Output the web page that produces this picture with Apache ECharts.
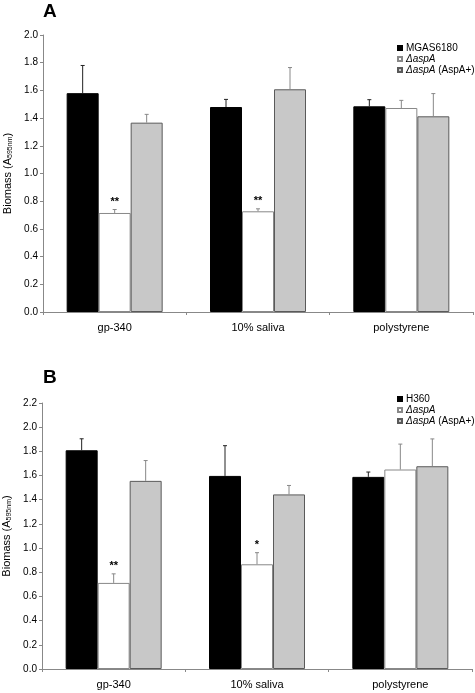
<!DOCTYPE html>
<html><head><meta charset="utf-8">
<script src="https://cdn.jsdelivr.net/npm/echarts@6/dist/echarts.min.js"></script>
<style>html,body{margin:0;padding:0;background:#fff}#c{width:475px;height:693px}</style>
</head><body><div id="c"></div>
<script>
const categories = ['gp-340', '10% saliva', 'polystyrene'];
const seriesNamesA = ['MGAS6180', 'ΔaspA', 'ΔaspA (AspA+)'];
const seriesNamesB = ['H360', 'ΔaspA', 'ΔaspA (AspA+)'];
// Panel A values and SD (upper error)
const wtA = [1.58, 1.48, 1.485];
const mutA = [0.715, 0.727, 1.473];
const compA = [1.367, 1.608, 1.413];
const wtErrA = [0.20, 0.055, 0.048];
const mutErrA = [0.025, 0.018, 0.055];
const compErrA = [0.06, 0.157, 0.164];
const sigA = ['**', '**', ''];
// Panel B
const wtB = [1.809, 1.597, 1.589];
const mutB = [0.712, 0.866, 1.650];
const compB = [1.556, 1.444, 1.677];
const wtErrB = [0.095, 0.25, 0.04];
const mutErrB = [0.075, 0.096, 0.21];
const compErrB = [0.168, 0.074, 0.226];
const sigB = ['**', '*', ''];
const yTicksA = {min: 0, max: 2.0, interval: 0.2};
const yTicksB = {min: 0, max: 2.2, interval: 0.2};

const FONT = 'Liberation Sans, Arial, sans-serif';
const styles = [
  {fill: '#000000', border: '#000000', err: '#222222'},
  {fill: '#ffffff', border: '#888888', err: '#888888'},
  {fill: '#c8c8c8', border: '#5a5a5a', err: '#888888'}
];
const BW = 32;

function barSeries(name, data, idx, axis) {
  return {
    type: 'bar', name: name, data: data, xAxisIndex: axis, yAxisIndex: axis,
    barWidth: BW, barGap: '0%',
    itemStyle: {color: styles[idx].fill, borderColor: styles[idx].border, borderWidth: 1},
    emphasis: {disabled: true}, silent: true, z: 2
  };
}
function errSeries(vals, errs, idx, axis, sig) {
  const data = vals.map((v, i) => [i, v, errs[i]]);
  return {
    type: 'custom', xAxisIndex: axis, yAxisIndex: axis, silent: true, z: 5,
    data: data, encode: {x: 0, y: 1},
    renderItem: function (params, api) {
      const i = api.value(0), v = api.value(1), e = api.value(2);
      const p0 = api.coord([i, v]);
      const p1 = api.coord([i, v + e]);
      const x = p0[0] + (idx - 1) * BW;
      const children = [
        {type: 'line', shape: {x1: x, y1: p0[1], x2: x, y2: p1[1]}, style: {stroke: styles[idx].err, lineWidth: 1}},
        {type: 'line', shape: {x1: x - 2, y1: p1[1], x2: x + 2, y2: p1[1]}, style: {stroke: styles[idx].err, lineWidth: 1}}
      ];
      if (sig && sig[i]) {
        children.push({type: 'text', style: {text: sig[i], x: x, y: p1[1] - 2, textAlign: 'center', textVerticalAlign: 'bottom', font: 'bold 11px ' + FONT, fill: '#000'}});
      }
      return {type: 'group', children: children};
    }
  };
}
function yAxis(t, axis) {
  return {
    type: 'value', gridIndex: axis, min: t.min, max: t.max, interval: t.interval,
    name: '{a|Biomass (A}{s|595nm}{a|)}', nameLocation: 'middle', nameGap: 29,
    nameTextStyle: {rich: {a: {fontFamily: FONT, fontSize: 11, color: '#000'}, s: {fontFamily: FONT, fontSize: 7, color: '#000', padding: [4, 0, 0, 0]}}},
    axisLine: {show: true, lineStyle: {color: '#888', width: 1}},
    axisTick: {show: true, length: 3, lineStyle: {color: '#888'}},
    axisLabel: {fontFamily: FONT, fontSize: 10, color: '#000', margin: 5, formatter: v => v.toFixed(1)},
    splitLine: {show: false}
  };
}
function xAxis(axis) {
  return {
    type: 'category', gridIndex: axis, data: categories,
    axisLine: {lineStyle: {color: '#888', width: 1}},
    axisTick: {show: true, length: 3, lineStyle: {color: '#888'}},
    axisLabel: {fontFamily: FONT, fontSize: 11, color: '#000', margin: 10}
  };
}
const legendRich = {
  i: {fontFamily: FONT, fontSize: 10, fontStyle: 'italic', color: '#000'},
  n: {fontFamily: FONT, fontSize: 10, color: '#000'}
};
function legendFmt(name) {
  if (name.indexOf('ΔaspA') === 0) {
    return '{i|ΔaspA}' + (name.length > 5 ? '{n|' + name.slice(5) + '}' : '');
  }
  return '{n|' + name + '}';
}
function legend(names, top) {
  return {
    orient: 'vertical', left: 392, top: top, itemWidth: 4, itemHeight: 4, itemGap: 1,
    icon: 'rect', data: names, formatter: legendFmt, selectedMode: false,
    textStyle: {rich: legendRich, padding: [0, 0, 0, -1]}
  };
}

const chart = echarts.init(document.getElementById('c'), null, {renderer: 'canvas'});
chart.setOption({
  animation: false,
  backgroundColor: '#fff',
  title: [
    {text: 'A', left: 43, top: 2, padding: 0, textStyle: {fontFamily: FONT, fontWeight: 'bold', fontSize: 19, color: '#000'}},
    {text: 'B', left: 43, top: 368, padding: 0, textStyle: {fontFamily: FONT, fontWeight: 'bold', fontSize: 19, color: '#000'}}
  ],
  legend: [legend(seriesNamesA, 38), legend(seriesNamesB, 389)],
  grid: [
    {left: 43, top: 35, width: 430, height: 277, containLabel: false, outerBoundsMode: 'none'},
    {left: 42, top: 403, width: 430, height: 266, containLabel: false, outerBoundsMode: 'none'}
  ],
  xAxis: [xAxis(0), xAxis(1)],
  yAxis: [yAxis(yTicksA, 0), yAxis(yTicksB, 1)],
  series: [
    barSeries(seriesNamesA[0], wtA, 0, 0),
    barSeries(seriesNamesA[1], mutA, 1, 0),
    barSeries(seriesNamesA[2], compA, 2, 0),
    errSeries(wtA, wtErrA, 0, 0, null),
    errSeries(mutA, mutErrA, 1, 0, sigA),
    errSeries(compA, compErrA, 2, 0, null),
    barSeries(seriesNamesB[0], wtB, 0, 1),
    barSeries(seriesNamesB[1], mutB, 1, 1),
    barSeries(seriesNamesB[2], compB, 2, 1),
    errSeries(wtB, wtErrB, 0, 1, null),
    errSeries(mutB, mutErrB, 1, 1, sigB),
    errSeries(compB, compErrB, 2, 1, null)
  ]
});
</script></body></html>
